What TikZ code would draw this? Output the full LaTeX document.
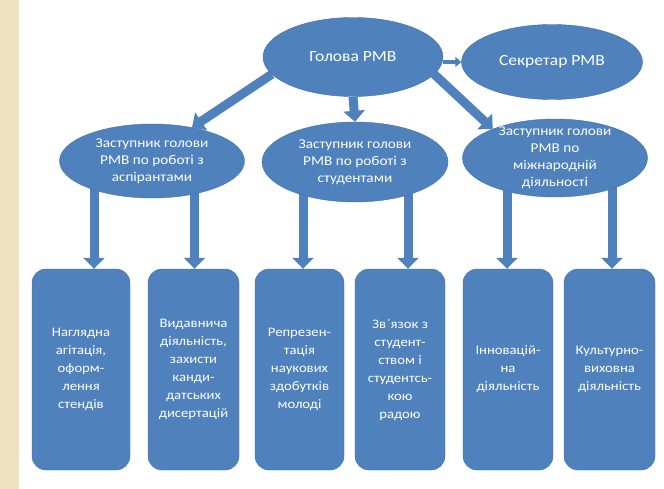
\documentclass[tikz,border=0pt]{standalone}
\usepackage{fontspec}
\setmainfont{Carlito}[FakeStretch=1.13]
\usepackage{tikz}
\usetikzlibrary{arrows.meta}
\usetikzlibrary{shapes.geometric}
\usetikzlibrary{backgrounds}
\definecolor{rmv-blue}{RGB}{79, 129, 189}
\definecolor{rmv-edge}{RGB}{66, 112, 170}
\definecolor{rmv-paper}{RGB}{239, 226, 192}

\begin{document}
\begin{tikzpicture}[x=1pt, y=-1pt,
    oval/.style={ellipse, fill=rmv-blue, draw=rmv-edge, inner sep=0pt},
    ovaltext/.style={text=white, align=center, font=\fontsize{13.5}{17}\selectfont},
    toptext/.style={text=white, align=center, font=\fontsize{15.5}{19}\selectfont},
    card/.style={rectangle, rounded corners=14pt, fill=rmv-blue, draw=rmv-edge, text=white,
      align=center, minimum height=201pt, inner sep=2pt, font=\fontsize{13}{18}\selectfont},
    arr/.style={rmv-blue, line width=9pt, -{Triangle[width=21pt, length=11pt]}}]
          \useasboundingbox (0, 0) rectangle (664, 489);

          % top level
          \node[oval, minimum width=180pt, minimum height=79pt,
            label={[toptext]center:Голова РМВ}] (head) at (353, 57) {};
          \node[oval, minimum width=181pt, minimum height=75pt,
            label={[toptext]center:Секретар РМВ}] (secr) at (552, 62) {};

          % deputies
          \node[oval, minimum width=185pt, minimum height=74pt,
            label={[ovaltext]center:Заступник голови\\РМВ по роботі з\\аспірантами}] (dep-asp) at (152, 161) {};
          \node[oval, minimum width=186pt, minimum height=80pt,
            label={[ovaltext]center:Заступник голови\\РМВ по роботі з\\студентами}] (dep-stud) at (355, 162) {};
          \node[oval, minimum width=185pt, minimum height=78pt,
            label={[ovaltext]center:Заступник голови\\РМВ по\\міжнародній\\діяльності}] (dep-intl) at (555, 158) {};

          % activities
          \node[card, minimum width=98pt] (b1) at (81, 369.5) {Наглядна\\агітація,\\оформ-\\лення\\стендів};
          \node[card, minimum width=91pt] (b2) at (193.5, 369.5) {Видавнича\\діяльність,\\захисти\\канди-\\датських\\дисертацій};
          \node[card, minimum width=89pt] (b3) at (299.5, 369.5) {Репрезен-\\тація\\наукових\\здобутків\\молоді};
          \node[card, minimum width=90pt] (b4) at (400, 369.5) {Зв΄язок з\\студент-\\ством і\\студентсь-\\кою\\радою};
          \node[card, minimum width=90pt] (b5) at (508, 369.5) {Інновацій-\\на\\діяльність};
          \node[card, minimum width=91pt] (b6) at (609.5, 369.5) {Культурно-\\виховна\\діяльність};

          \begin{scope}[on background layer]
            \fill[white] (0, 0) rectangle (664, 489);
            \fill[rmv-paper] (0, 0) rectangle (19, 489);

            \draw[arr] (head.192) -- (dep-asp.40);
            \draw[arr] (head.south) -- (dep-stud.north);
            \draw[arr] (head.348) -- (dep-intl.155);
            \draw[rmv-blue, line width=4pt, -{Triangle[width=10pt, length=6pt]}] (head.east |- secr.west) -- (secr.west);

            \draw[arr] ([xshift=13pt]b1.north |- dep-asp.center) -- ([xshift=13pt]b1.north);
            \draw[arr] ([xshift=1pt]b2.north |- dep-asp.center) -- ([xshift=1pt]b2.north);
            \draw[arr] ([xshift=3.5pt]b3.north |- dep-stud.center) -- ([xshift=3.5pt]b3.north);
            \draw[arr] ([xshift=8pt]b4.north |- dep-stud.center) -- ([xshift=8pt]b4.north);
            \draw[arr] ([xshift=-1pt]b5.north |- dep-intl.center) -- ([xshift=-1pt]b5.north);
            \draw[arr] ([xshift=2.5pt]b6.north |- dep-intl.center) -- ([xshift=2.5pt]b6.north);
          \end{scope}
        \end{tikzpicture}
\end{document}
